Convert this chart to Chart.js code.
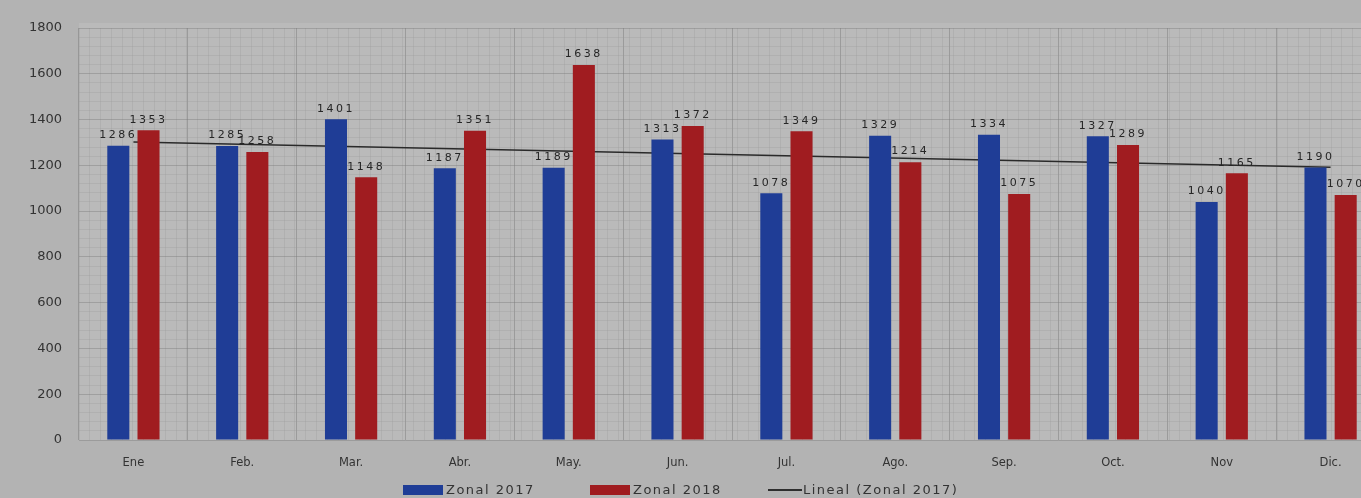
<!DOCTYPE html>
<html>
<head>
<meta charset="utf-8">
<script src="https://cdn.jsdelivr.net/npm/chart.js@4.4.1/dist/chart.umd.min.js"></script>
<style>
  html, body { margin: 0; padding: 0; background: #b3b3b3; overflow: hidden; }
  #wrap { position: relative; width: 1392px; height: 498px; }
  #legend { position: absolute; left: 0; top: 480px; width: 1361px; height: 18px;
    font-family: "DejaVu Sans", sans-serif; font-size: 13px; color: #333; letter-spacing: 1.5px; }
  #legend span { position: absolute; top: 2px; white-space: nowrap; }
  #legend i { position: absolute; display: block; }
</style>
</head>
<body>
<div id="wrap">
  <canvas id="c"></canvas>
  <div id="legend">
    <i style="left:403px; top:5px; width:40px; height:10px; background:#1f3d96;"></i>
    <span style="left:446px;">Zonal 2017</span>
    <i style="left:590px; top:5px; width:40px; height:10px; background:#a01c20;"></i>
    <span style="left:633px;">Zonal 2018</span>
    <i style="left:768px; top:9px; width:34px; height:1.5px; background:#2e2e2e;"></i>
    <span style="left:803px;">Lineal (Zonal 2017)</span>
  </div>
</div>
<script>
const categories = ["Ene", "Feb.", "Mar.", "Abr.", "May.", "Jun.", "Jul.", "Ago.", "Sep.", "Oct.", "Nov", "Dic."];
const zonal2017 = [1286, 1285, 1401, 1187, 1189, 1313, 1078, 1329, 1334, 1327, 1040, 1190];
const zonal2018 = [1353, 1258, 1148, 1351, 1638, 1372, 1349, 1214, 1075, 1289, 1165, 1070];
const trendStart = 1302;
const trendEnd = 1192;
const yMajorStep = 200;
const yMinorStep = 40;
const yMax = 1800;
const trendData = categories.map((c, i) => i === 0 ? trendStart : (i === categories.length - 1 ? trendEnd : null));

const plotBg = {
  id: 'plotBg',
  beforeDraw(chart) {
    const {ctx, chartArea: a} = chart;
    ctx.save();
    ctx.fillStyle = '#bababa';
    ctx.fillRect(a.left, a.top - 5, a.right - a.left, a.bottom - a.top + 5);
    ctx.restore();
  }
};

const barLabels = {
  id: 'barLabels',
  afterDatasetsDraw(chart) {
    const {ctx} = chart;
    ctx.save();
    ctx.font = '11px "DejaVu Sans", sans-serif';
    ctx.letterSpacing = '2.5px';
    ctx.fillStyle = '#262626';
    ctx.textAlign = 'center';
    ctx.textBaseline = 'bottom';
    [0, 1].forEach(di => {
      const meta = chart.getDatasetMeta(di);
      const vals = chart.data.datasets[di].data;
      meta.data.forEach((bar, i) => {
        ctx.fillText(String(vals[i]), bar.x, bar.y - 5);
      });
    });
    ctx.restore();
  }
};

const chart = new Chart(document.getElementById('c'), {
  type: 'bar',
  data: {
    labels: categories,
    datasets: [
      { label: 'Zonal 2017', data: zonal2017, backgroundColor: '#1f3d96' },
      { label: 'Zonal 2018', data: zonal2018, backgroundColor: '#a01c20' },
      { type: 'line', label: 'Lineal (Zonal 2017)', data: trendData, spanGaps: true,
        borderColor: '#2a2a2a', borderWidth: 1.5, pointRadius: 0, fill: false }
    ]
  },
  options: {
    responsive: true,
    maintainAspectRatio: false,
    animation: false,
    datasets: { bar: { categoryPercentage: 0.555, barPercentage: 0.73 } },
    layout: { padding: { top: 28, right: 7, left: 0, bottom: 0 } },
    plugins: { legend: { display: false }, tooltip: { enabled: false } },
    scales: {
      x: {
        type: 'category',
        grid: { color: 'rgba(110,110,110,0.4)', drawTicks: false, offset: true },
        border: { display: false },
        ticks: { color: '#333', font: { family: 'DejaVu Sans', size: 11.5 }, padding: 16 },
        afterFit(s) { s.height = 58; }
      },
      x2: {
        type: 'linear', position: 'top', min: 0, max: categories.length,
        ticks: { display: false, stepSize: 0.1, autoSkip: false },
        grid: { drawTicks: false, color: 'rgba(150,150,150,0.28)' },
        border: { display: false },
        afterFit(s) { s.height = 0; }
      },
      y: {
        min: 0, max: yMax,
        ticks: {
          stepSize: yMinorStep, autoSkip: false, padding: 17,
          color: '#333', font: { family: 'DejaVu Sans', size: 13 },
          callback: v => (v % yMajorStep === 0 ? String(v) : '')
        },
        grid: {
          drawTicks: false,
          color: c => (c.tick && c.tick.value % yMajorStep === 0) ? 'rgba(120,120,120,0.4)' : 'rgba(150,150,150,0.28)'
        },
        border: { display: false },
        afterFit(s) { s.width = 79; }
      }
    }
  },
  plugins: [plotBg, barLabels]
});
</script>
</body>
</html>
